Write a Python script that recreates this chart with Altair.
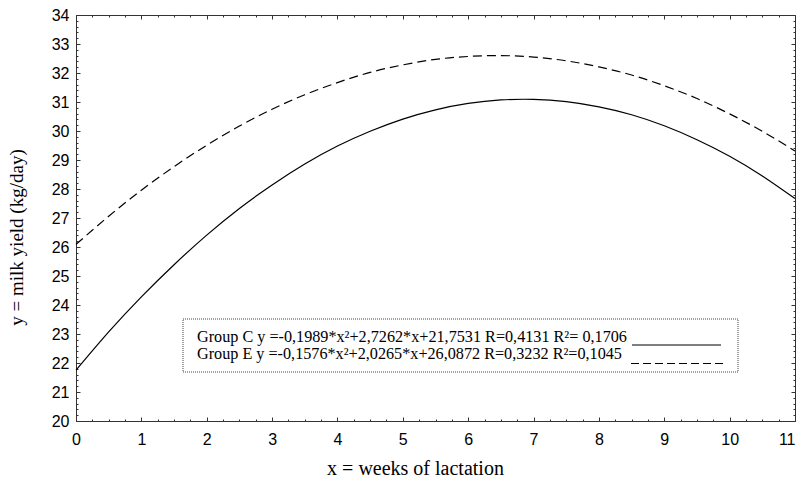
import altair as alt
import pandas as pd

# ---- data ----
weeks = [0, 0.5, 1, 1.5, 2, 2.5, 3, 3.5, 4, 4.5, 5, 5.5, 6, 6.5, 7, 7.5, 8, 8.5, 9, 9.5, 10, 10.5, 11]
group_c = [21.75, 23.07, 24.28, 25.39, 26.41, 27.33, 28.14, 28.86, 29.48, 29.99, 30.41, 30.73,
           30.95, 31.07, 31.09, 31.01, 30.83, 30.56, 30.18, 29.70, 29.13, 28.45, 27.67]
group_e = [26.09, 27.06, 27.96, 28.77, 29.51, 30.17, 30.75, 31.25, 31.67, 32.02, 32.28, 32.47,
           32.57, 32.60, 32.55, 32.42, 32.21, 31.93, 31.56, 31.12, 30.59, 29.99, 29.31]

x_major = [0, 1, 2, 3, 4, 5, 6, 7, 8, 9, 10, 11]
y_major = [20, 21, 22, 23, 24, 25, 26, 27, 28, 29, 30, 31, 32, 33, 34]
x_minor = [i / 4 for i in range(0, 45) if i % 4 != 0]
y_minor = [20 + i / 5 for i in range(0, 71) if i % 5 != 0]

legend_c = "Group C y =-0,1989*x\u00b2+2,7262*x+21,7531 R=0,4131 R\u00b2= 0,1706"
legend_e = "Group E y =-0,1576*x\u00b2+2,0265*x+26,0872 R=0,3232 R\u00b2=0,1045"

df = pd.DataFrame({
    "week": weeks + weeks,
    "yield": group_c + group_e,
    "group": ["C"] * len(weeks) + ["E"] * len(weeks),
})

FRAME = "#333333"
xs = alt.Scale(domain=[0, 11], nice=False, zero=False)
ys = alt.Scale(domain=[20, 34], nice=False, zero=False)


def tick_axis(orient, values, size):
    return alt.Axis(orient=orient, values=values, ticks=True, tickSize=size, offset=-size,
                    labels=False, domain=False, grid=False, title=None,
                    tickColor=FRAME, tickWidth=1)


main_x = alt.Axis(orient="bottom", values=x_major, format="d", ticks=False, grid=False,
                  labelFont="Liberation Sans", labelFontSize=16, labelColor="black",
                  labelPadding=10, labelFlush=False, labelOverlap=False,
                  labelAlign={"condition": {"test": "datum.value == 11", "value": "right"},
                              "value": "center"},
                  domain=True, domainColor=FRAME, domainWidth=1,
                  title="x = weeks of lactation", titleFont="Liberation Serif",
                  titleFontSize=20, titleFontWeight="normal", titleColor="black",
                  titleX=339, titleY=53, titleBaseline="alphabetic", titleAlign="center")
main_y = alt.Axis(orient="left", values=y_major, format="d", ticks=False, grid=False,
                  labelFont="Liberation Sans", labelFontSize=16, labelColor="black",
                  labelPadding=7, labelFlush=False, labelOverlap=False,
                  domain=True, domainColor=FRAME, domainWidth=1,
                  title="y = milk yield (kg/day)", titleFont="Liberation Serif",
                  titleFontSize=19, titleFontWeight="normal", titleColor="black",
                  titleX=-54, titleY=222, titleBaseline="alphabetic", titleAlign="center",
                  titleAngle=270)

base = alt.Chart(df)

line_c = base.transform_filter(alt.datum.group == "C").mark_line(
    color="black", strokeWidth=1.2, interpolate="natural"
).encode(x=alt.X("week:Q", scale=xs, axis=main_x), y=alt.Y("yield:Q", scale=ys, axis=main_y))

line_e = base.transform_filter(alt.datum.group == "E").mark_line(
    color="black", strokeWidth=1.2, strokeDash=[9, 5], interpolate="natural"
).encode(x=alt.X("week:Q", scale=xs, axis=tick_axis("bottom", x_major, 4)),
         y=alt.Y("yield:Q", scale=ys, axis=tick_axis("left", y_major, 4)))

inv1 = base.transform_filter(alt.datum.group == "C").mark_line(opacity=0).encode(
    x=alt.X("week:Q", scale=xs, axis=tick_axis("bottom", x_minor, 2)),
    y=alt.Y("yield:Q", scale=ys, axis=tick_axis("left", y_minor, 2)))
inv2 = base.transform_filter(alt.datum.group == "C").mark_line(opacity=0).encode(
    x=alt.X("week:Q", scale=xs, axis=tick_axis("top", x_major, 4)),
    y=alt.Y("yield:Q", scale=ys, axis=tick_axis("right", y_major, 4)))
inv3 = base.transform_filter(alt.datum.group == "C").mark_line(opacity=0).encode(
    x=alt.X("week:Q", scale=xs, axis=tick_axis("top", x_minor, 2)),
    y=alt.Y("yield:Q", scale=ys, axis=tick_axis("right", y_minor, 2)))

one = pd.DataFrame({"k": [0]})
box = alt.Chart(one).mark_rect(fillOpacity=0, stroke="#444444", strokeWidth=1,
                               strokeDash=[1, 1]).encode(
    x=alt.value(107), x2=alt.value(662), y=alt.value(304), y2=alt.value(357))

txt_c = alt.Chart(pd.DataFrame({"t": [legend_c]})).mark_text(
    align="left", baseline="alphabetic", font="Liberation Serif", fontSize=16.2, color="black"
).encode(x=alt.value(121), y=alt.value(327), text="t:N")
txt_e = alt.Chart(pd.DataFrame({"t": [legend_e]})).mark_text(
    align="left", baseline="alphabetic", font="Liberation Serif", fontSize=16.2, color="black"
).encode(x=alt.value(121), y=alt.value(343.5), text="t:N")

sample_c = alt.Chart(one).mark_rule(color="black", strokeWidth=1).encode(
    x=alt.value(556), x2=alt.value(645), y=alt.value(330))
sample_e = alt.Chart(one).mark_rule(color="black", strokeWidth=1, strokeDash=[8, 4]).encode(
    x=alt.value(555), x2=alt.value(648), y=alt.value(348.5))

chart = alt.layer(
    line_c, line_e, inv1, inv2, inv3, box, txt_c, txt_e, sample_c, sample_e
).resolve_axis(x="independent", y="independent").properties(
    width=719, height=406,
    autosize=alt.AutoSizeParams(type="none"),
    padding={"left": 68, "top": 7, "right": 1, "bottom": 55},
    background="white",
).configure_view(stroke=FRAME, strokeWidth=1)

chart.save("out.html", embed_options={"renderer": "svg", "actions": False})
